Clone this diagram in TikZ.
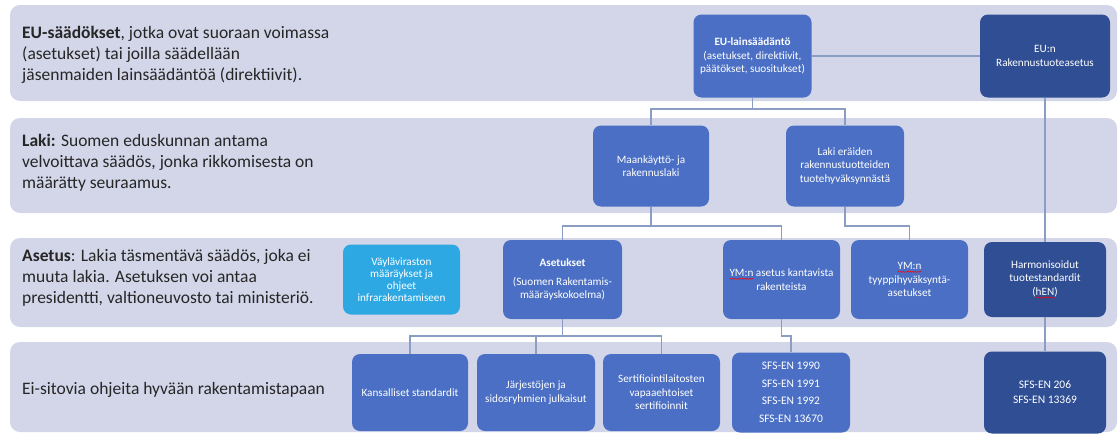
\documentclass[tikz,border=0pt]{standalone}
\usepackage{fontspec}
\setmainfont{Carlito}
\usetikzlibrary{shapes, arrows, positioning, decorations.pathmorphing}
\definecolor{kaistavari}{HTML}{D3D6E9}
\definecolor{sininen}{HTML}{4A6FC4}
\definecolor{tumma}{HTML}{2F4E93}
\definecolor{vaalea}{HTML}{2EA8E3}
\definecolor{viivavari}{HTML}{8B9DC3}
\definecolor{tekstivari}{HTML}{262626}
\newsavebox\virhelaatikko
\newlength\virhepituus
\newcommand\virhe[1]{\sbox\virhelaatikko{#1}\setlength\virhepituus{\wd\virhelaatikko}%
\rlap{\tikz[baseline=0pt, x=1pt, y=1pt, sharp corners]\draw[red, line width=0.45pt, sharp corners, decorate, decoration={snake, amplitude=0.6pt, segment length=2.4pt}] (0pt,-2.2pt) -- (\virhepituus,-2.2pt);}\usebox\virhelaatikko}
\tikzstyle{kaista}=[fill=kaistavari, rounded corners=10pt]
\tikzstyle{selite}=[anchor=west, align=left, inner sep=0pt, text=tekstivari,
font=\fontsize{17.5}{20.8}\selectfont]
\tikzstyle{laatikko}=[rectangle, rounded corners=8pt, fill=sininen, text=white,
align=center, font=\fontsize{11.2}{13.5}\selectfont, inner sep=2pt,
minimum width=118pt, minimum height=79pt]
\tikzstyle{tummalaatikko}=[laatikko, fill=tumma]
\tikzstyle{vaalealaatikko}=[laatikko, fill=vaalea]
\tikzstyle{viiva}=[draw=viivavari, line width=1.2pt]

\begin{document}
\begin{tikzpicture}[x=1pt, y=-1pt, node distance=120pt]
		\useasboundingbox (0,0) rectangle (1119,434);
		\path[kaista] (10,5) rectangle (1117,101);
		\path[kaista] (10,118) rectangle (1117,213);
		\path[kaista] (10,238) rectangle (1117,327);
		\path[kaista] (10,342) rectangle (1117,432);
		\node[selite] (eusaad) at (22,55) {\textbf{EU-säädökset}, jotka ovat suoraan voimassa\\(asetukset) tai joilla säädellään\\jäsenmaiden lainsäädäntöä (direktiivit).};
		\node[selite] (lakiteksti) at (22,163) {\textbf{Laki:} Suomen eduskunnan antama\\velvoittava säädös, jonka rikkomisesta on\\määrätty seuraamus.};
		\node[selite] (asetusteksti) at (22,278) {\textbf{Asetus}: Lakia täsmentävä säädös, joka ei\\muuta lakia. Asetuksen voi antaa\\presidentti, valtioneuvosto tai ministeriö.};
		\node[selite] (eisitovia) at (22,390) {Ei-sitovia ohjeita hyvään rakentamistapaan};
		\node[laatikko, minimum height=83pt] (eu) at (752.5,56) {\textbf{EU-lainsäädäntö}\\(asetukset, direktiivit,\\päätökset, suositukset)};
		\node[tummalaatikko, right of=eu, node distance=292.5pt, minimum width=130pt, minimum height=83pt] (eun) {EU:n\\Rakennustuoteasetus};
		\node[laatikko, minimum width=116pt, minimum height=81pt] (mrl) at (651,166) {Maankäyttö- ja\\rakennuslaki};
		\node[laatikko, right of=mrl, node distance=194pt, minimum height=81pt] (laki) {Laki eräiden\\rakennustuotteiden\\tuotehyväksynnästä};
		\node[laatikko, minimum width=119pt] (aset) at (562.5,279.5) {\textbf{Asetukset}\\[5pt](Suomen Rakentamis-\\määräyskokoelma)};
		\node[vaalealaatikko, left of=aset, node distance=161pt, minimum width=117pt, minimum height=70pt, font=\fontsize{11.2}{12}\selectfont] (vayla) {Väyläviraston\\määräykset ja\\ohjeet\\infrarakentamiseen};
		\node[laatikko, right of=aset, node distance=219pt, minimum width=117pt] (ymkant) {\virhe{YM:n} asetus kantavista\\rakenteista};
		\node[laatikko, right of=ymkant, node distance=128pt, minimum width=117pt] (ymtyyp) {\virhe{YM:n}\\tyyppihyväksyntä-\\asetukset};
		\node[tummalaatikko, right of=ymtyyp, node distance=135.5pt, minimum width=122pt, minimum height=75pt] (hen) {Harmonisoidut\\tuotestandardit\\(\virhe{hEN})};
		\node[laatikko, minimum width=116pt, minimum height=77pt] (kans) at (410,392.5) {Kansalliset standardit};
		\node[laatikko, right of=kans, node distance=126pt, minimum height=77pt] (jarj) {Järjestöjen ja\\sidosryhmien julkaisut};
		\node[laatikko, right of=jarj, node distance=125.5pt, minimum width=117pt, minimum height=77pt] (sert) {Sertifiointilaitosten\\vapaaehtoiset\\sertifioinnit};
		\node[laatikko, right of=sert, node distance=129.5pt, minimum height=80pt, font=\fontsize{11.5}{17.5}\selectfont] (sfs) {SFS-EN 1990\\SFS-EN 1991\\SFS-EN 1992\\SFS-EN 13670};
		\node[tummalaatikko, right of=sfs, node distance=254pt, minimum width=122pt, minimum height=82pt, font=\fontsize{11.5}{15}\selectfont] (sfs206) {SFS-EN 206\\SFS-EN 13369};
		\coordinate (haara1) at (752.5,109);
		\coordinate (haara2) at (651,226);
		\coordinate (haara3) at (845,226);
		\coordinate (haara4) at (562.5,336);
		\coordinate (haara5) at (781.5,336);
		\draw[viiva] (eu) -- (eun);
		\draw[viiva] (eu) -- (haara1) -| (mrl);
		\draw[viiva] (haara1) -| (laki);
		\draw[viiva] (eun) -- (hen);
		\draw[viiva] (hen) -- (sfs206);
		\draw[viiva] (mrl) -- (haara2) -| (aset);
		\draw[viiva] (haara2) -| (ymkant);
		\draw[viiva] (laki) -- (haara3) -| (ymtyyp);
		\draw[viiva] (aset) -- (haara4) -| (kans);
		\draw[viiva] (haara4) -| (jarj);
		\draw[viiva] (haara4) -| (sert);
		\draw[viiva] (ymkant) -- (haara5) -| (sfs);
	\end{tikzpicture}
\end{document}
